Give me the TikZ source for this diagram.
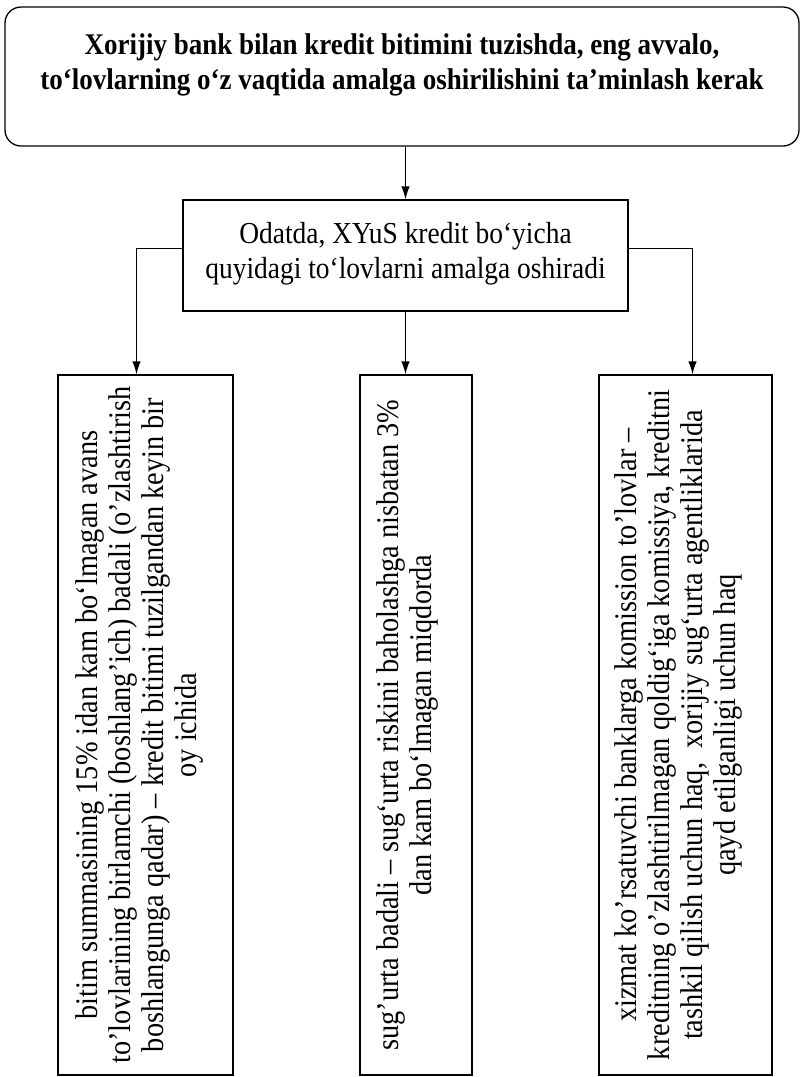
\documentclass[tikz,border=0pt]{standalone}
\usepackage{fontspec}
\setmainfont[FakeStretch=0.9]{Liberation Serif}
\usetikzlibrary{arrows.meta}

\begin{document}
\begin{tikzpicture}[x=1pt, y=-1pt, line width=1.3pt,
    blok/.style={draw, rectangle, inner sep=0pt, align=center},
    strelka/.style={-{Latex[length=13pt,width=8.5pt]}},
    matn/.style={rotate=90, align=center, font=\fontsize{31.5}{33}\selectfont}]
\useasboundingbox (0,0) rectangle (802,1077);
% yuqori blok
\node[blok, rounded corners=16pt, minimum width=794pt, minimum height=139pt,
      font=\fontsize{30}{35}\selectfont\bfseries] (bosh) at (402,76.5)
      {Xorijiy bank bilan kredit bitimini tuzishda, eng avvalo,\\
       to‘lovlarning o‘z vaqtida amalga oshirilishini ta’minlash kerak\\[-15pt] \strut};
\node[blok, minimum width=445pt, minimum height=111pt,
      font=\fontsize{30.5}{35}\selectfont] (odat) at (405.5,255.5)
      {Odatda, XYuS kredit bo‘yicha\\ quyidagi to‘lovlarni amalga oshiradi\\[-36pt] \strut};
% pastki bloklar
\foreach \nom/\x/\w in {chap/145.5/175, orta/416/112, ong/685.5/173}{
    \node[blok, minimum width=\w pt, minimum height=700pt] (\nom) at (\x,725) {};
}
\node[matn] (chapmatn) at ([xshift=-6pt]chap.center)
    {bitim summasining 15\% idan kam bo‘lmagan avans\\
     to’lovlarining birlamchi (boshlang’ich) badali (o’zlashtirish\\
     boshlangunga qadar) – kredit bitimi tuzilgandan keyin bir\\
     oy ichida};
\node[matn] (ortamatn) at ([xshift=-9pt]orta.center)
    {sug’urta badali – sug‘urta riskini baholashga nisbatan 3\%\\
     dan kam bo‘lmagan miqdorda};
\node[matn] (ongmatn) at ([xshift=-7pt]ong.center)
    {xizmat ko’rsatuvchi banklarga komission to’lovlar –\\
     kreditning o’zlashtirilmagan qoldig‘iga komissiya, kreditni\\
     tashkil qilish uchun haq,\ \ xorijiy sug‘urta agentliklarida\\
     qayd etilganligi uchun haq};
% strelkalar
\draw[strelka] (odat.north |- bosh.south) -- (odat.north);
\draw[strelka] ([yshift=7pt]odat.west) -| ([xshift=-9pt]chap.north);
\draw[strelka] (odat.south) -- (odat.south |- orta.north);
\draw[strelka] ([yshift=7pt]odat.east) -| ([xshift=7pt]ong.north);
\end{tikzpicture}
\end{document}
